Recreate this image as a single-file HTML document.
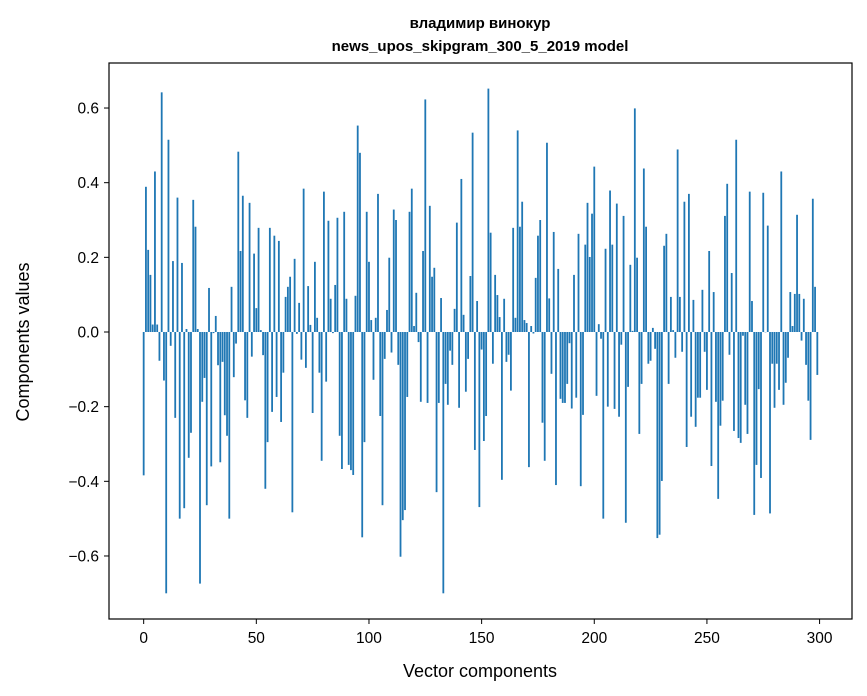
<!DOCTYPE html>
<html><head><meta charset="utf-8"><style>
body{margin:0;background:#fff;}
svg{display:block;font-family:"Liberation Sans","DejaVu Sans",sans-serif;}
</style></head><body>
<svg id="chart" width="867" height="696">
<text x="480" y="28" text-anchor="middle" font-size="15" font-weight="bold">владимир винокур</text>
<text x="480" y="51" text-anchor="middle" font-size="15" font-weight="bold">news_upos_skipgram_300_5_2019 model</text>
<g id="bars"></g>
<rect x="109" y="63" width="743" height="556" fill="none" stroke="#000" stroke-width="1.2"/>
<g id="xticks"></g>
<g id="yticks"></g>
<text x="480" y="677" text-anchor="middle" font-size="18">Vector components</text>
<text transform="translate(29,342) rotate(-90)" text-anchor="middle" font-size="18">Components values</text>
</svg>
<script>
const values = [-0.384,0.389,0.22,0.153,0.02,0.43,0.02,-0.077,0.642,-0.13,
-0.70,0.515,-0.037,0.19,-0.23,0.36,-0.50,0.185,-0.472,0.008,
-0.337,-0.27,0.354,0.282,0.008,-0.674,-0.187,-0.123,-0.464,0.118,
-0.36,-0.003,0.043,-0.089,-0.349,-0.08,-0.223,-0.278,-0.50,0.121,
-0.121,-0.031,0.483,0.217,0.365,-0.183,-0.23,0.346,-0.066,0.21,
0.064,0.279,0.005,-0.062,-0.42,-0.295,0.279,-0.214,0.258,-0.174,
0.244,-0.241,-0.109,0.094,0.121,0.148,-0.483,0.196,-0.005,0.078,
-0.074,0.384,-0.096,0.123,0.019,-0.217,0.188,0.038,-0.109,-0.345,
0.376,-0.133,0.298,0.089,-0.003,0.126,0.306,-0.278,-0.367,0.322,
0.089,-0.356,-0.37,-0.383,0.097,0.553,0.48,-0.55,-0.295,0.322,
0.188,0.032,-0.128,0.038,0.37,-0.225,-0.464,-0.072,0.059,0.199,
-0.055,0.328,0.30,-0.088,-0.602,-0.504,-0.477,-0.174,0.322,0.384,
0.016,0.105,-0.027,-0.187,0.217,0.623,-0.19,0.338,0.148,0.172,
-0.429,-0.19,0.091,-0.70,-0.139,-0.195,-0.05,-0.088,0.062,0.293,
-0.203,0.41,0.046,-0.16,-0.072,0.15,0.534,-0.316,0.083,-0.469,
-0.047,-0.292,-0.225,0.652,0.266,-0.085,0.153,0.099,0.04,-0.396,
0.089,-0.08,-0.061,-0.157,0.279,0.038,0.54,0.282,0.349,0.032,
0.024,-0.362,0.016,-0.004,0.145,0.258,0.30,-0.243,-0.345,0.507,
0.09,-0.112,0.268,-0.41,0.169,-0.179,-0.19,-0.19,-0.139,-0.03,
-0.205,0.153,-0.176,0.263,-0.413,-0.222,0.234,0.346,0.201,0.317,
0.443,-0.171,0.021,-0.018,-0.50,0.223,-0.20,0.379,0.234,-0.206,
0.344,-0.227,-0.034,0.311,-0.511,-0.147,0.18,0.003,0.599,0.199,
-0.273,-0.139,0.438,0.282,-0.085,-0.077,0.011,-0.045,-0.552,-0.543,
-0.399,0.231,0.263,-0.139,0.094,0.005,-0.069,0.489,0.094,-0.053,
0.349,-0.308,0.37,-0.227,0.086,-0.254,-0.176,-0.176,0.113,-0.053,
-0.155,0.217,-0.359,0.107,-0.187,-0.447,-0.251,-0.184,0.311,0.397,
-0.061,0.158,-0.265,0.515,-0.284,-0.297,-0.01,-0.195,-0.273,0.376,
0.083,-0.49,-0.356,-0.153,-0.391,0.373,0.0,0.285,-0.486,-0.085,
-0.203,-0.085,-0.155,0.43,-0.195,-0.136,-0.069,0.107,0.016,0.102,
0.314,0.102,-0.023,0.089,-0.088,-0.184,-0.289,0.357,0.121,-0.115];
const xTicks = [0,50,100,150,200,250,300];
const yTicks = [-0.6,-0.4,-0.2,0.0,0.2,0.4,0.6];
const yTickLabels = ["\u22120.6","\u22120.4","\u22120.2","0.0","0.2","0.4","0.6"];

const NS="http://www.w3.org/2000/svg";
function xScale(v){return 109+(v+15.39)*2.253;}
function yScale(v){return 332-373.3*v;}
const bars=document.getElementById('bars');
values.forEach((v,i)=>{
  const r=document.createElementNS(NS,'rect');
  const w=0.8*2.253;
  const y0=yScale(0), y1=yScale(v);
  r.setAttribute('x',xScale(i)-w/2);
  r.setAttribute('y',Math.min(y0,y1));
  r.setAttribute('width',w);
  r.setAttribute('height',Math.max(Math.abs(y1-y0),0.3));
  r.setAttribute('fill','#1f77b4');
  
  
  bars.appendChild(r);
});
const xg=document.getElementById('xticks');
xTicks.forEach(t=>{
  const x=xScale(t);
  const l=document.createElementNS(NS,'line');
  l.setAttribute('x1',x);l.setAttribute('x2',x);l.setAttribute('y1',619);l.setAttribute('y2',624);
  l.setAttribute('stroke','#000');
  
  
  xg.appendChild(l);
  const tx=document.createElementNS(NS,'text');
  tx.setAttribute('x',x);tx.setAttribute('y',643);tx.setAttribute('text-anchor','middle');tx.setAttribute('font-size','15.5');
  tx.textContent=t;
  
  
  xg.appendChild(tx);
});
const yg=document.getElementById('yticks');
yTicks.forEach((t,k)=>{
  const y=yScale(t);
  const l=document.createElementNS(NS,'line');
  l.setAttribute('x1',104);l.setAttribute('x2',109);l.setAttribute('y1',y);l.setAttribute('y2',y);
  l.setAttribute('stroke','#000');
  
  
  yg.appendChild(l);
  const tx=document.createElementNS(NS,'text');
  tx.setAttribute('x',99);tx.setAttribute('y',y+5.5);tx.setAttribute('text-anchor','end');tx.setAttribute('font-size','15.5');
  tx.textContent=yTickLabels[k];
  
  
  yg.appendChild(tx);
});
</script>
</body></html>
